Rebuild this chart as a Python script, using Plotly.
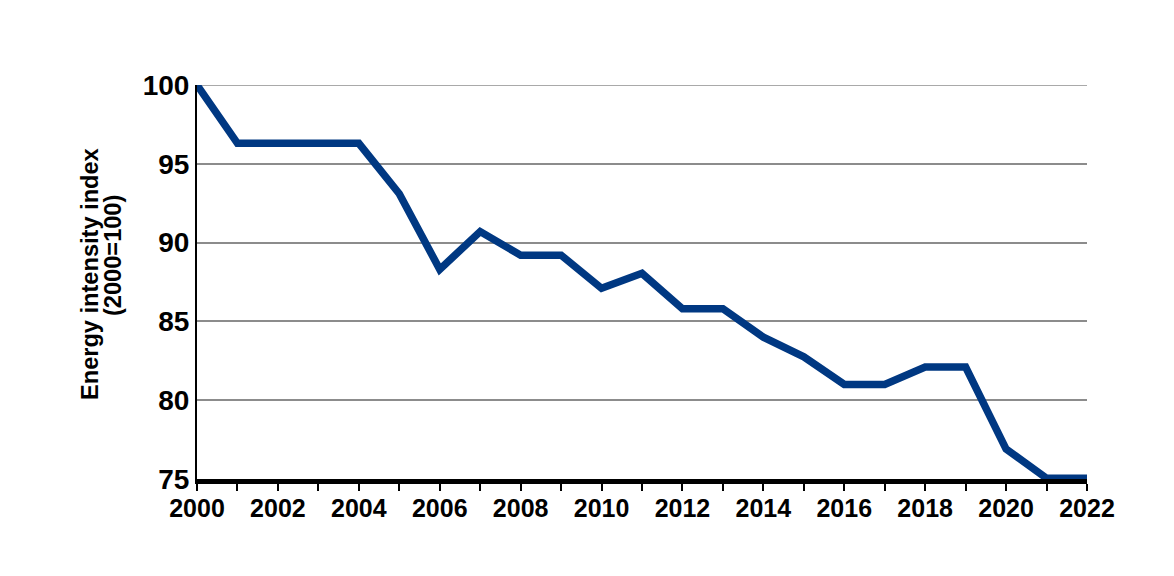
import plotly.graph_objects as go

years = list(range(2000, 2023))
index_values = [100.0, 96.3, 96.3, 96.3, 96.3, 93.1, 88.3, 90.7, 89.2, 89.2,
                87.1, 88.05, 85.8, 85.8, 84.0, 82.75, 81.0, 81.0, 82.1, 82.1,
                76.9, 75.05, 75.05]
y_ticks = [75, 80, 85, 90, 95, 100]
x_ticks = list(range(2000, 2023, 2))
title_lines = ["Energy intensity index", "(2000=100)"]

font_family = "Liberation Sans, Arial, sans-serif"
grid_color = "#8c8c8c"

fig = go.Figure()
fig.add_trace(go.Scatter(
    x=years, y=index_values, mode="lines",
    line=dict(color="#003882", width=7.5),
    cliponaxis=False, showlegend=False, hoverinfo="x+y",
))

fig.update_layout(
    width=1174, height=576,
    margin=dict(l=189, r=95, t=77, b=105),
    paper_bgcolor="white", plot_bgcolor="white",
    font=dict(family=font_family, color="black"),
    xaxis=dict(
        range=[2000, 2022], tickvals=x_ticks,
        ticks="outside", ticklen=7, tickwidth=2, tickcolor="black",
        minor=dict(dtick=1, tick0=2000, ticks="outside", ticklen=7,
                   tickwidth=2, tickcolor="black", showgrid=False),
        showgrid=False, zeroline=False,
        showline=True, linecolor="black", linewidth=4.5,
        tickfont=dict(size=25, family=font_family, color="black", weight="bold"),
        ticklabelstandoff=-4,
        fixedrange=True,
    ),
    yaxis=dict(
        range=[75, 100], tickvals=y_ticks,
        ticks="", showgrid=True, gridcolor=grid_color, gridwidth=1.5,
        zeroline=False, showline=True, linecolor="black", linewidth=2,
        tickfont=dict(size=28, family=font_family, color="black", weight="bold"),
        ticklabelstandoff=0,
        fixedrange=True,
    ),
    shapes=[dict(
        type="line", xref="paper", yref="y", x0=0, x1=1,
        y0=max(y_ticks), y1=max(y_ticks), layer="below",
        line=dict(color=grid_color, width=1.5),
    )],
    annotations=[
        dict(text=title_lines[0], xref="paper", yref="paper",
             x=-0.1202, y=0.5203, xanchor="center", yanchor="middle",
             textangle=-90, showarrow=False,
             font=dict(size=23.6, family=font_family, color="black", weight="bold")),
        dict(text=title_lines[1], xref="paper", yref="paper",
             x=-0.0944, y=0.5685, xanchor="center", yanchor="middle",
             textangle=-90, showarrow=False,
             font=dict(size=23.6, family=font_family, color="black", weight="bold")),
    ],
)

fig.write_html("out.html")
